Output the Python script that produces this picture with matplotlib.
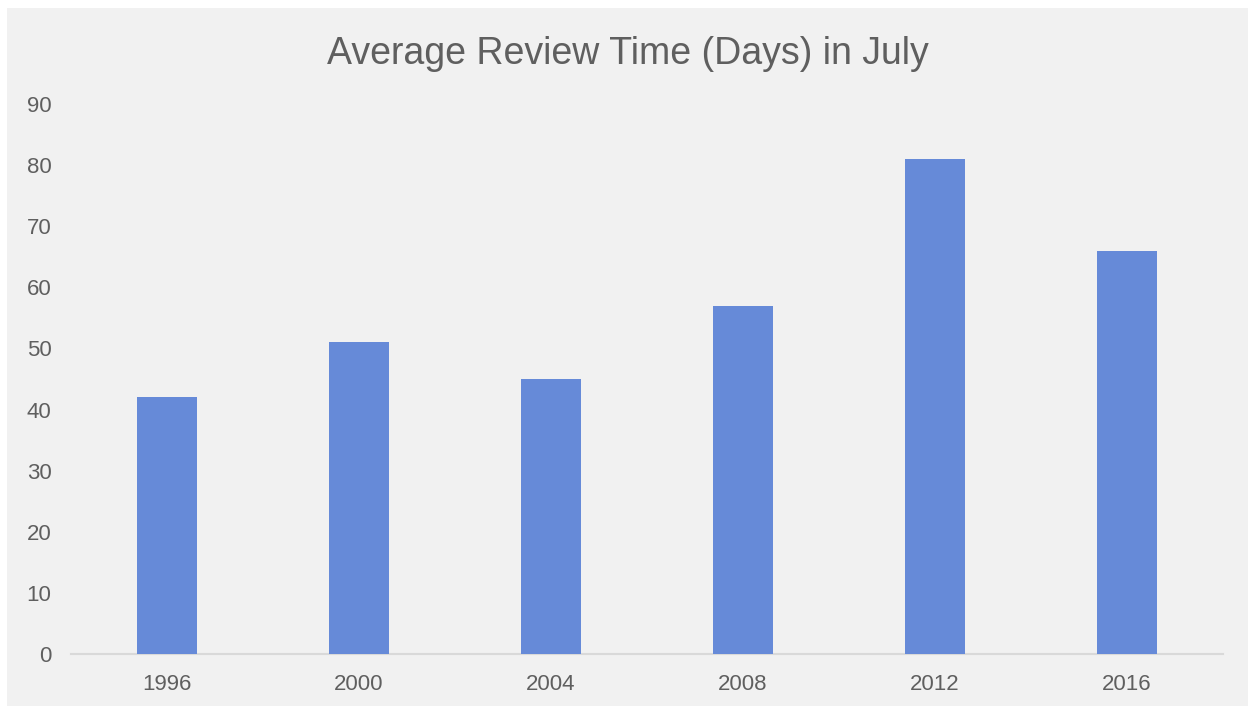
import matplotlib
matplotlib.use("Agg")
import matplotlib.pyplot as plt
from matplotlib.patches import Rectangle

years = ["1996", "2000", "2004", "2008", "2012", "2016"]
review_days = [42, 51, 45, 57, 81, 66]
y_ticks = [0, 10, 20, 30, 40, 50, 60, 70, 80, 90]
title = "Average Review Time (Days) in July"

W, H = 1248, 706
plt.rcParams['font.family'] = ['Liberation Sans', 'DejaVu Sans']
fig = plt.figure(figsize=(W / 100, H / 100), dpi=100, facecolor='white')
fig.patches.append(Rectangle((7 / W, 0), (W - 7) / W, (H - 8) / H,
                             transform=fig.transFigure, facecolor='#f1f1f1',
                             edgecolor='none', zorder=-10))

ax = fig.add_axes([71 / W, (H - 654) / H, (1223 - 71) / W, (654 - 104) / H])
ax.set_zorder(1)
ax.set_facecolor('none')
x = list(range(len(years)))
ax.bar(x, review_days, width=0.3125, color='#668ad8', zorder=3)
ax.set_xlim(-0.5, len(years) - 0.5)
ax.set_ylim(0, 90)
ax.set_xticks(x)
ax.set_xticklabels(years)
ax.set_yticks(y_ticks)
ax.set_yticklabels([str(v) for v in y_ticks])
for s in ['top', 'right', 'left']:
    ax.spines[s].set_visible(False)
ax.spines['bottom'].set_color('#d9d9d9')
ax.spines['bottom'].set_linewidth(1.5)
ax.tick_params(axis='both', length=0, labelsize=16, labelcolor='#5f5f5f')
ax.tick_params(axis='y', pad=14)
ax.tick_params(axis='x', pad=14.5)

fig.text(628 / W, (H - 64) / H, title, ha='center', va='baseline',
         fontsize=27, color='#5f5f5f', zorder=5)

fig.savefig('out.png', dpi=100, facecolor='white')
